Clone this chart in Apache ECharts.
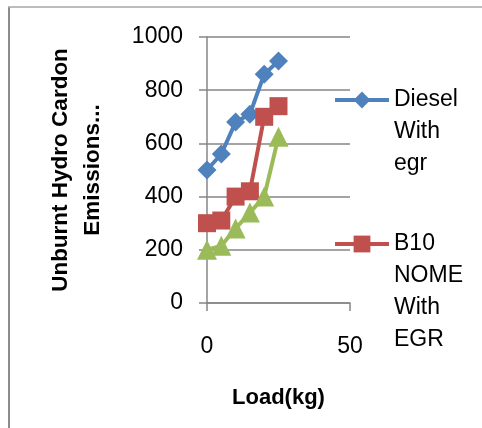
<!DOCTYPE html>
<html><head><meta charset="utf-8">
<script src="https://cdn.jsdelivr.net/npm/echarts@6/dist/echarts.min.js"></script>
<style>html,body{margin:0;padding:0;background:#fff;overflow:hidden;}#c{width:482px;height:428px;}</style>
</head><body><div id="c"></div>
<script>
const loads = [0, 5, 10, 15, 20, 25];
const dieselEgr = [500, 560, 680, 710, 860, 910];
const b10NomeEgr = [300, 310, 400, 420, 700, 740];
const b20NomeEgr = [200, 215, 280, 340, 400, 625];
const names = ['Diesel\nWith\negr', 'B10\nNOME\nWith\nEGR', 'B20 NOME With EGR'];
const colors = ['#4F81BD', '#C0504D', '#9BBB59'];
const symbols = ['diamond', 'rect', 'triangle'];
const sizes = [19, 18, 20];
const yTicks = {min: 0, max: 1000, interval: 200};
const xTicks = {min: 0, max: 50, interval: 50};
const seriesData = [dieselEgr, b10NomeEgr, b20NomeEgr];

const font = 'Liberation Sans, Arial, sans-serif';
const chart = echarts.init(document.getElementById('c'));
// pad legend text with blank lines above so the icon sits on the first line
const padTop = name => '\n'.repeat(name.split('\n').length - 1) + name;
const legendBase = {
  orient: 'vertical', left: 328, itemWidth: 54, itemHeight: 21,
  itemGap: 0, selectedMode: false, formatter: padTop,
  lineStyle: {width: 4},
  textStyle: {fontFamily: font, fontSize: 23, color: '#000', lineHeight: 32}
};
chart.setOption({
  animation: false,
  graphic: [
    {type: 'line', shape: {x1: 9, y1: 7, x2: 9, y2: 440}, style: {stroke: '#8c8c8c', lineWidth: 2}, silent: true},
    {type: 'line', shape: {x1: 8, y1: 7, x2: 482, y2: 7}, style: {stroke: '#a6a6a6', lineWidth: 1.5}, silent: true}
  ],
  legend: [
    Object.assign({}, legendBase, {top: 15, data: [names[0]]}),
    Object.assign({}, legendBase, {top: 127, data: [names[1]]})
  ],
  grid: {left: 207, right: 132, top: 37, bottom: 125, containLabel: false},
  xAxis: {
    type: 'value', min: xTicks.min, max: xTicks.max, interval: xTicks.interval,
    name: 'Load(kg)', nameLocation: 'middle', nameGap: 84,
    nameTextStyle: {fontFamily: font, fontSize: 22, fontWeight: 'bold', color: '#000'},
    axisLine: {show: true, lineStyle: {color: '#868686', width: 1.5}},
    axisTick: {show: true, length: 8, lineStyle: {color: '#868686', width: 1.5}},
    axisLabel: {fontFamily: font, fontSize: 23, color: '#000', margin: 32},
    splitLine: {show: false}
  },
  yAxis: {
    type: 'value', min: yTicks.min, max: yTicks.max, interval: yTicks.interval,
    name: 'Unburnt Hydro Cardon\nEmissions...', nameLocation: 'middle', nameGap: 98,
    nameTextStyle: {fontFamily: font, fontSize: 22.5, fontWeight: 'bold', color: '#000', lineHeight: 32},
    axisLine: {show: true, lineStyle: {color: '#868686', width: 1.5}},
    axisTick: {show: true, length: 8, lineStyle: {color: '#868686', width: 1.5}},
    axisLabel: {fontFamily: font, fontSize: 23, color: '#000', margin: 24, formatter: v => String(v)},
    splitLine: {show: true, lineStyle: {color: '#868686', width: 1.5}}
  },
  series: seriesData.map((d, i) => ({
    name: names[i], type: 'line',
    data: d.map((v, j) => [loads[j], v]),
    symbol: symbols[i], symbolSize: sizes[i], showSymbol: true,
    lineStyle: {color: colors[i], width: 4},
    itemStyle: {color: colors[i]},
    z: 2 + i
  }))
});
</script></body></html>
